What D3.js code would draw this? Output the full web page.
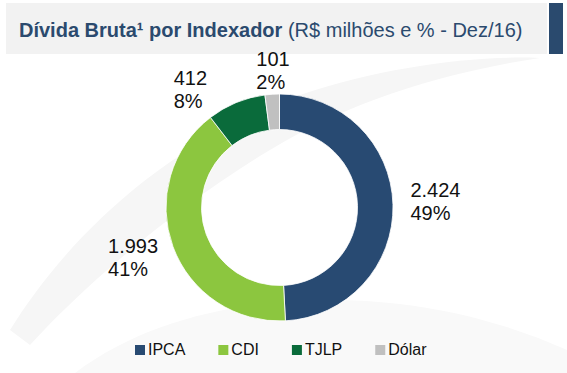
<!DOCTYPE html>
<html>
<head>
<meta charset="utf-8">
<script src="https://cdn.jsdelivr.net/npm/d3@7/dist/d3.min.js"></script>
<style>
  html, body { margin: 0; padding: 0; background: #ffffff; }
  svg { display: block; font-family: "Liberation Sans", Arial, sans-serif; }
</style>
</head>
<body>
<svg id="chart" width="567" height="373"></svg>
<script>
// ---- data ----
const categories = ["IPCA", "CDI", "TJLP", "Dólar"];
const values = [2424, 1993, 412, 101];
const valueLabels = ["2.424", "1.993", "412", "101"];
const percentLabels = ["49%", "41%", "8%", "2%"];
const colors = ["#284a72", "#8cc63f", "#0a6b3b", "#c0c0c0"];
const titleBold = "Dívida Bruta¹ por Indexador";
const titleNormal = " (R$ milhões e % - Dez/16)";

// ---- layout ----
const W = 567, H = 373;
const cx = 279.5, cy = 207.5, rOuter = 113.5, rInner = 78, rLabel = 155;
const labelNudge = [[1, -2], [-1, -4], [-30, 25], [3.5, 18]];

const svg = d3.select("#chart");

// faint background watermark
const wm = svg.append("g").attr("fill", "#f6f6f6");
wm.append("path").attr("d", "M10,330 C60,250 150,150 300,95 C380,68 470,55 540,58 C460,70 360,95 270,150 C170,210 80,290 30,345 Z");
wm.append("path").attr("d", "M20,430 C90,330 220,300 330,300 C420,300 500,320 567,350 L567,373 L60,373 Z").attr("fill", "#f9f9f9");

// title box
svg.append("rect").attr("x", 6).attr("y", 3).attr("width", 541).attr("height", 51).attr("fill", "#f2f2f2");
svg.append("rect").attr("x", 549).attr("y", 3).attr("width", 14).attr("height", 51).attr("fill", "#2a4a6e");
const title = svg.append("text").attr("x", 19).attr("y", 37)
  .attr("font-size", 20).attr("fill", "#2b4a6e");
title.append("tspan").attr("font-weight", "bold").text(titleBold);
title.append("tspan").text(titleNormal);

// donut
const pie = d3.pie().sort(null).value(d => d)(values);
const arc = d3.arc().innerRadius(rInner).outerRadius(rOuter);
const labelArc = d3.arc().innerRadius(rLabel).outerRadius(rLabel);
const g = svg.append("g").attr("transform", `translate(${cx},${cy})`);
g.selectAll("path.slice").data(pie).join("path")
  .attr("class", "slice")
  .attr("d", arc)
  .attr("fill", (d, i) => colors[i])
  .attr("stroke", "#ffffff").attr("stroke-width", 0.8);

// labels
const lineH = 23, cap = 14.3;
pie.forEach((d, i) => {
  const [lx, ly] = labelArc.centroid(d);
  const bx = cx + lx + labelNudge[i][0];
  const by = cy + ly + labelNudge[i][1];
  const t = svg.append("text").attr("font-size", 20).attr("fill", "#111");
  const t1 = t.append("tspan").text(valueLabels[i]);
  const t2 = t.append("tspan").text(percentLabels[i]);
  const w = Math.max(t1.node().getComputedTextLength(), t2.node().getComputedTextLength());
  const x0 = bx - w / 2;
  const y0 = by - (lineH + cap) / 2 + cap;
  t1.attr("x", x0).attr("y", y0);
  t2.attr("x", x0).attr("y", y0 + lineH);
});

// legend
const legend = svg.append("g");
let lx = 135;
const legY = 355, sq = 10;
categories.forEach((c, i) => {
  legend.append("rect").attr("x", lx).attr("y", legY - 10).attr("width", sq).attr("height", sq).attr("fill", colors[i]);
  const t = legend.append("text").attr("x", lx + sq + 3).attr("y", legY)
    .attr("font-size", 16).attr("fill", "#111").text(c);
  lx += sq + 3 + t.node().getComputedTextLength() + 33;
});
</script>
</body>
</html>
